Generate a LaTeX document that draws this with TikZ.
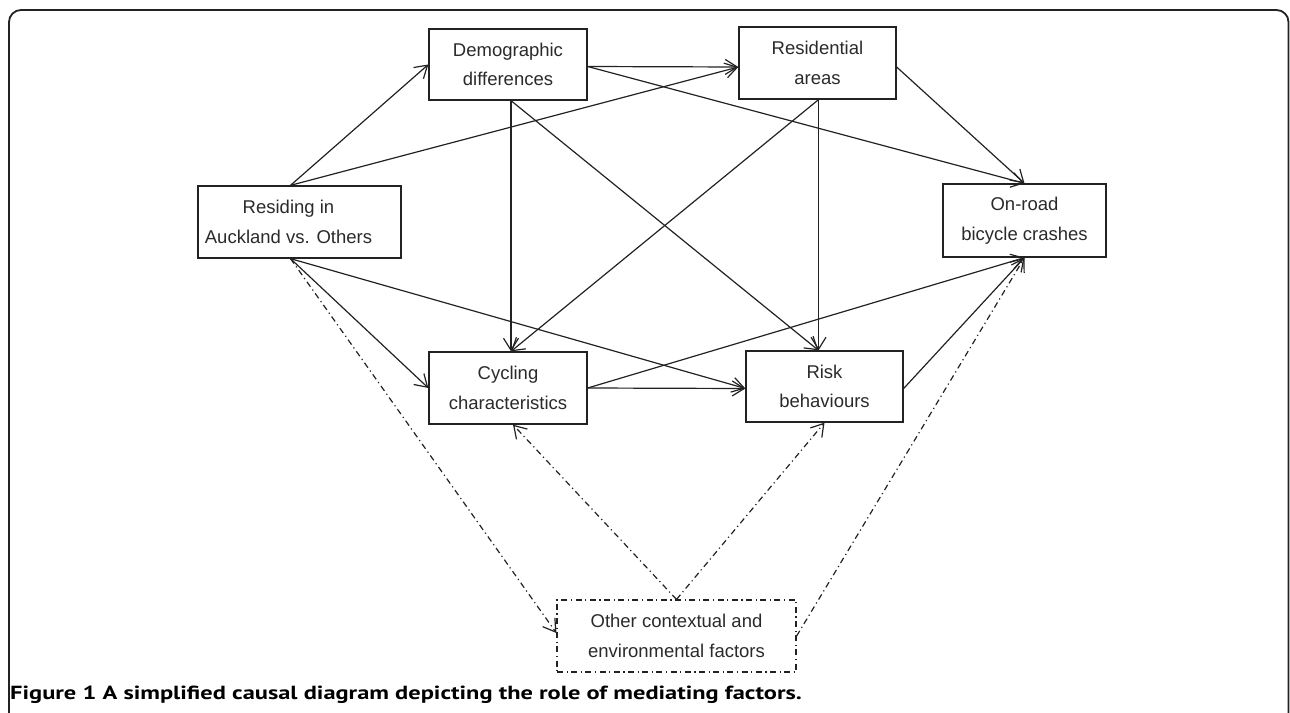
\documentclass[tikz,border=0pt]{standalone}
\usepackage{fontspec}
\setmainfont{Liberation Sans}
\newfontfamily\capfont{PT Sans}
\usetikzlibrary{arrows.meta}
\definecolor{ink}{HTML}{222222}
\definecolor{txt}{HTML}{2a2a2a}
\begin{document}
\begin{tikzpicture}[x=1pt,y=-1pt,
  box/.style={draw=ink,line width=1.3pt,rectangle,minimum width=#1,minimum height=72pt,inner sep=0pt,
    align=center,text=txt,font=\fontsize{18.5}{29.5}\selectfont},
  arr/.style={draw=ink,line width=1.2pt,-{Straight Barb[length=12pt,width=15pt,line width=1.2pt]}},
  dd/.style={draw=ink,line width=1.2pt,dash pattern=on 6pt off 3.5pt on 1.2pt off 3.5pt},
  ddarr/.style={dd,-{Straight Barb[length=12pt,width=15pt,line width=1.2pt]}},
]
\useasboundingbox (0,0) rectangle (1290,712);
% frame
\draw[ink,line width=1.8pt,rounded corners=12pt] (9,720) -- (9,10) -- (1288.5,10) -- (1288.5,720);

\node[box=203pt] (res) at (299.5,222) {\hspace*{-22pt}Residing in\\\hspace*{-22pt}Auckland vs. Others};
\node[box=158pt,minimum height=71pt] (dem) at (508,64.5) {Demographic\\differences};
\node[box=157pt] (rsa) at (817.5,63) {Residential\\areas};
\node[box=163pt,minimum height=73pt] (onr) at (1024.5,220.5) {On-road\\bicycle crashes};
\node[box=158pt] (cyc) at (508,388) {Cycling\\characteristics};
\node[box=157pt,minimum height=71pt] (risk) at (824.5,386.5) {Risk\\behaviours};
\node[box=239pt,dd] (oth) at (676.5,636) {Other contextual and\\environmental factors};

% solid arrows
\draw[arr] ([xshift=-9pt]res.north) -- (dem.west);
\draw[arr] ([xshift=-9pt]res.north) -- ([yshift=-4pt]rsa.west);
\draw[arr] ([yshift=-2pt]dem.east) -- ([yshift=-4pt]rsa.west);
\draw[arr] ([yshift=-2pt]dem.east) -- (onr.north);
\draw[arr] ([yshift=-4pt]rsa.east) -- (onr.north);
\draw[arr] ([xshift=3pt]dem.south) -- ([xshift=3pt]cyc.north);
\draw[arr] ([xshift=3pt]dem.south) -- ([xshift=-6pt]risk.north);
\draw[arr] ([xshift=1pt]rsa.south) -- ([xshift=3pt]cyc.north);
\draw[arr] ([xshift=1pt]rsa.south) -- ([xshift=-6pt]risk.north);
\draw[arr] ([xshift=-9pt]res.south) -- (cyc.west);
\draw[arr] ([xshift=-9pt]res.south) -- ([yshift=-2pt]risk.west);
\draw[arr] (cyc.east) -- ([yshift=-2pt]risk.west);
\draw[arr] (cyc.east) -- (onr.south);
\draw[arr] ([yshift=-2pt]risk.east) -- (onr.south);

% dash-dot arrows
\draw[ddarr] ([xshift=-9pt]res.south) -- ([yshift=3pt]oth.west);
\draw[ddarr] (oth.north) -- ([xshift=5pt]cyc.south);
\draw[ddarr] (oth.north) -- (risk.south);
\draw[ddarr] (oth.east) -- (onr.south);

% caption
\node[anchor=base west,inner sep=0pt,text=black,font=\capfont\bfseries\fontsize{19}{22}\selectfont] (cap) at (10,699)
  {\scalebox{1.285}[1]{Figure 1 A simplified causal diagram depicting the role of mediating factors.}};
\end{tikzpicture}
\end{document}
